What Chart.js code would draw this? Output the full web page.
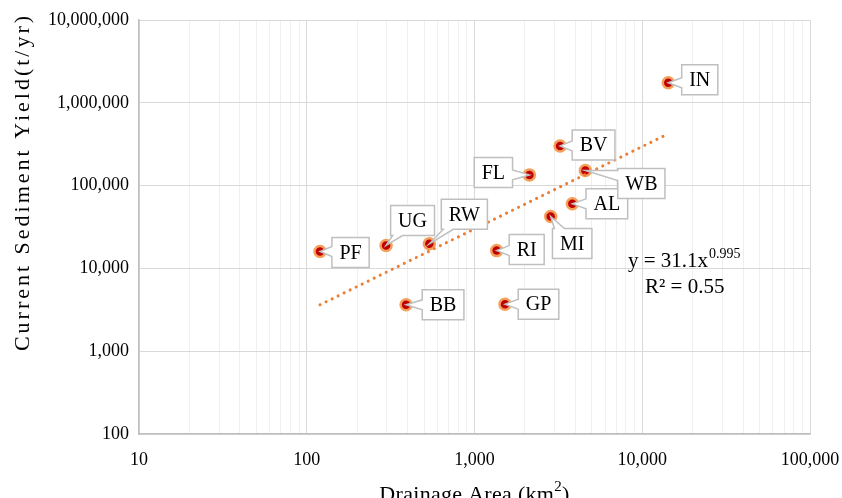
<!DOCTYPE html>
<html><head><meta charset="utf-8">
<script src="https://cdn.jsdelivr.net/npm/chart.js@4.4.0/dist/chart.umd.min.js"></script>
<style>html,body{margin:0;padding:0;background:#fff;}#wrap{width:842px;height:498px;}</style>
</head><body><div id="wrap"><canvas id="c" width="842" height="498"></canvas></div>
<script>
// ---- data ----
const sites = ['PF','UG','RW','BB','GP','RI','MI','AL','WB','FL','BV','IN'];
const drainageArea = [120, 297, 538, 391, 1520, 1356, 2845, 3830, 4580, 2124, 3236, 14290];
const sedimentYield = [16000, 18900, 19800, 3630, 3700, 16400, 42300, 60200, 151800, 134700, 301500, 1750000];
const trendX = [120, 14200];
const trendY = [3640, 420000];
const xTickValues = [10, 100, 1000, 10000, 100000];
const yTickValues = [100, 1000, 10000, 100000, 1000000, 10000000];
const equationMain = 'y = 31.1x';
const equationExp = '0.995';
const r2Text = 'R\u00B2 = 0.55';
const xTitle = ['Drainage Area (km', '2', ')'];
const yTitle = 'Current Sediment Yield(t/yr)';

// ---- label placement (box centre offset from point, px) ----
const labelOffsets = [[30.5,1],[26.5,-25],[35,-29.5],[37,0],[33.5,0],[30,-1],[21.5,27],[34.5,0],[56,13],[-36,-2.5],[33.5,-1],[31.5,-3]];

const SERIF = '"Liberation Serif", "Times New Roman", serif';
const isPow10 = v => Math.abs(Math.log10(v) - Math.round(Math.log10(v))) < 1e-9;
const fmt = v => Number(v).toLocaleString('en-US');

const labelPlugin = {
  id: 'labels',
  afterDatasetsDraw(chart) {
    const ctx = chart.ctx;
    const meta = chart.getDatasetMeta(0);
    ctx.save();
    ctx.font = '20px ' + SERIF;
    meta.data.forEach((el, i) => {
      const px = el.x, py = el.y;
      const w = ctx.measureText(sites[i]).width + 15, h = 30;
      const cx = px + labelOffsets[i][0], cy = py + labelOffsets[i][1];
      const L = cx - w/2, R = cx + w/2, T = cy - h/2, B = cy + h/2;
      const ox = px < L ? L - px : (px > R ? px - R : 0);
      const oy = py < T ? T - py : (py > B ? py - B : 0);
      let edge;
      if (ox >= oy) edge = px < L ? 'L' : 'R'; else edge = py < T ? 'T' : 'B';
      const clamp = (v, a, b) => Math.max(a, Math.min(b, v));
      const hw = 5;
      const tx = px, ty = py;
      ctx.beginPath();
      ctx.moveTo(L, T);
      if (edge === 'T') { const b = clamp(px, L+7, R-7); ctx.lineTo(b-hw, T); ctx.lineTo(tx, ty); ctx.lineTo(b+hw, T); }
      ctx.lineTo(R, T);
      if (edge === 'R') { const b = clamp(py, T+7, B-7); ctx.lineTo(R, b-hw); ctx.lineTo(tx, ty); ctx.lineTo(R, b+hw); }
      ctx.lineTo(R, B);
      if (edge === 'B') { const b = clamp(px, L+7, R-7); ctx.lineTo(b+hw, B); ctx.lineTo(tx, ty); ctx.lineTo(b-hw, B); }
      ctx.lineTo(L, B);
      if (edge === 'L') { const b = clamp(py, T+7, B-7); ctx.lineTo(L, b+hw); ctx.lineTo(tx, ty); ctx.lineTo(L, b-hw); }
      ctx.closePath();
      ctx.fillStyle = '#fff';
      ctx.fill();
      ctx.strokeStyle = '#bfbfbf';
      ctx.lineWidth = 1.5;
      ctx.lineJoin = 'miter';
      ctx.stroke();
      ctx.fillStyle = '#000';
      ctx.textAlign = 'center';
      ctx.textBaseline = 'middle';
      ctx.fillText(sites[i], cx, cy + 1);
    });
    ctx.restore();
  }
};

const textPlugin = {
  id: 'texts',
  afterDraw(chart) {
    const ctx = chart.ctx;
    const ca = chart.chartArea;
    ctx.save();
    ctx.fillStyle = '#000';
    ctx.textBaseline = 'alphabetic';
    ctx.textAlign = 'left';
    // equation
    ctx.font = '21px ' + SERIF;
    ctx.fillText(equationMain, 628, 267);
    const ew = ctx.measureText(equationMain).width;
    ctx.font = '14px ' + SERIF;
    ctx.fillText(equationExp, 628 + ew + 1, 258);
    ctx.font = '21px ' + SERIF;
    ctx.fillText(r2Text, 645, 293);
    // x title
    ctx.letterSpacing = '0.3px';
    ctx.font = '22px ' + SERIF;
    const w1 = ctx.measureText(xTitle[0]).width;
    const w3 = ctx.measureText(xTitle[2]).width;
    ctx.font = '15px ' + SERIF;
    const w2 = ctx.measureText(xTitle[1]).width;
    const total = w1 + w2 + w3;
    let x0 = (ca.left + ca.right)/2 - total/2;
    const by = 501;
    ctx.font = '22px ' + SERIF;
    ctx.fillText(xTitle[0], x0, by);
    ctx.font = '15px ' + SERIF;
    ctx.fillText(xTitle[1], x0 + w1, by - 10);
    ctx.font = '22px ' + SERIF;
    ctx.fillText(xTitle[2], x0 + w1 + w2, by);
    // y title
    ctx.letterSpacing = '3px';
    ctx.translate(29, 182);
    ctx.rotate(-Math.PI/2);
    ctx.textAlign = 'center';
    ctx.font = '22px ' + SERIF;
    ctx.fillText(yTitle, 0, 0);
    ctx.restore();
  }
};

const buildMinorTicks = (min, max) => {
  const t = [];
  for (let d = min; d < max; d *= 10) for (let k = 1; k < 10; k++) t.push({value: d*k});
  t.push({value: max});
  return t;
};

new Chart(document.getElementById('c'), {
  type: 'scatter',
  data: {
    datasets: [
      {
        label: 'Sites',
        data: sites.map((s, i) => ({x: drainageArea[i], y: sedimentYield[i]})),
        pointRadius: 5.5,
        pointHoverRadius: 5.5,
        backgroundColor: '#c00000',
        borderColor: '#f5a05a',
        borderWidth: 2.5,
        order: 1
      },
      {
        label: 'Trend',
        data: trendX.map((x, i) => ({x, y: trendY[i]})),
        showLine: true,
        borderColor: '#ed7d31',
        borderWidth: 3,
        borderDash: [0.1, 6.6],
        borderCapStyle: 'round',
        pointRadius: 0,
        fill: false,
        order: 0
      }
    ]
  },
  options: {
    responsive: false,
    animation: false,
    devicePixelRatio: 1,
    layout: { padding: { top: 20, right: 32, left: 0, bottom: 0 } },
    plugins: { legend: { display: false }, tooltip: { enabled: false } },
    scales: {
      x: {
        type: 'logarithmic',
        min: 10, max: 100000,
        afterBuildTicks: s => { s.ticks = buildMinorTicks(10, 100000); },
        afterFit: s => { s.height = 64; s.paddingLeft = 0; s.paddingRight = 0; },
        ticks: {
          autoSkip: false, maxRotation: 0, padding: 15, color: '#000',
          font: { family: SERIF, size: 18 },
          callback: v => xTickValues.includes(v) ? fmt(v) : ''
        },
        grid: {
          drawTicks: false, tickLength: 0,
          color: c => (c.tick && isPow10(c.tick.value)) ? '#d9d9d9' : '#efefef',
          lineWidth: 1
        },
        border: { color: '#bfbfbf', width: 1.5 }
      },
      y: {
        type: 'logarithmic',
        min: 100, max: 10000000,
        afterBuildTicks: s => { s.ticks = yTickValues.map(v => ({value: v})); },
        afterFit: s => { s.width = 139; s.paddingTop = 0; s.paddingBottom = 0; },
        ticks: {
          autoSkip: false, padding: 10, color: '#000',
          font: { family: SERIF, size: 18 },
          callback: v => fmt(v)
        },
        grid: { drawTicks: false, tickLength: 0, color: '#d9d9d9', lineWidth: 1 },
        border: { color: '#bfbfbf', width: 1.5 }
      }
    }
  },
  plugins: [labelPlugin, textPlugin]
});
</script>
</body></html>
